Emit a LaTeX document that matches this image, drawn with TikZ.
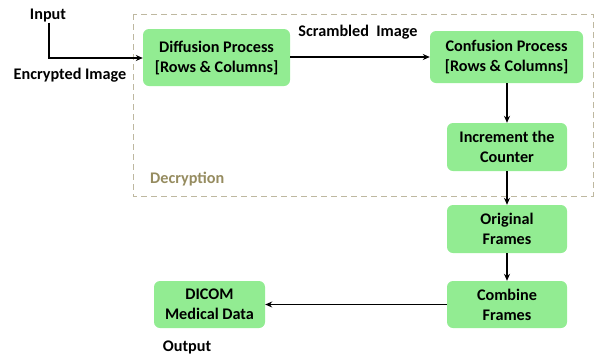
\documentclass[tikz,border=0pt]{standalone}
\usepackage{fontspec}
\setmainfont{Carlito}
\usetikzlibrary{arrows.meta}
\definecolor{boxgreen}{RGB}{146,236,146}
\definecolor{frameolive}{RGB}{190,184,160}
\definecolor{labelolive}{RGB}{150,140,96}
\tikzset{
  procbox/.style={draw=none, fill=boxgreen, rounded corners=6pt, align=center,
    font=\fontsize{16.2}{20}\selectfont\bfseries, inner sep=0pt},
  flow/.style={draw=black, line width=1.1pt, -{Stealth[length=7pt,width=6pt]}},
  lbl/.style={font=\fontsize{16.2}{18}\selectfont\bfseries, inner sep=0pt}
}
\begin{document}
\begin{tikzpicture}[x=1pt,y=-1pt]
  \useasboundingbox (0,0) rectangle (597,354);
  % decryption stage frame
  \draw[frameolive, line width=1pt, dash pattern=on 6pt off 4pt] (133,14) rectangle (593,196);
  \node[lbl, text=labelolive, anchor=west] (dec) at (150,179) {Decryption};

  % process boxes
  \node[procbox, minimum width=147pt, minimum height=57pt] (diff) at (216.5,57.5) {Diffusion Process\\{[Rows \& Columns]}};
  \node[procbox, minimum width=153pt, minimum height=52pt] (conf) at (506.5,57) {Confusion Process\\{[Rows \& Columns]}};
  \node[procbox, minimum width=120pt, minimum height=48pt] (inc) at (507,147) {Increment the\\Counter};
  \node[procbox, minimum width=120pt, minimum height=48pt] (orig) at (507,229) {Original\\Frames};
  \node[procbox, minimum width=120pt, minimum height=47pt] (comb) at (507,304.5) {Combine\\Frames};
  \node[procbox, minimum width=111pt, minimum height=47pt] (dicom) at (209.5,304.5) {DICOM\\Medical Data};

  % text labels
  \node[lbl] (inp) at (48,16) {Input};
  \node[lbl] (enc) at (70,75) {Encrypted Image};
  \node[lbl] (scr) at (358,32) {Scrambled\ \ Image};
  \node[lbl] (out) at (187,347) {Output};

  % connectors
  \coordinate (bend) at (49,58);
  \draw[flow] (inp.south -| bend) -- (bend) -- (bend -| diff.west);
  \draw[flow] (diff.east |- conf.west) -- (conf.west);
  \draw[flow] (conf.south -| inc.north) -- (inc.north);
  \draw[flow] (inc) -- (orig);
  \draw[flow] (orig) -- (comb);
  \draw[flow] (comb) -- (dicom);
\end{tikzpicture}
\end{document}
